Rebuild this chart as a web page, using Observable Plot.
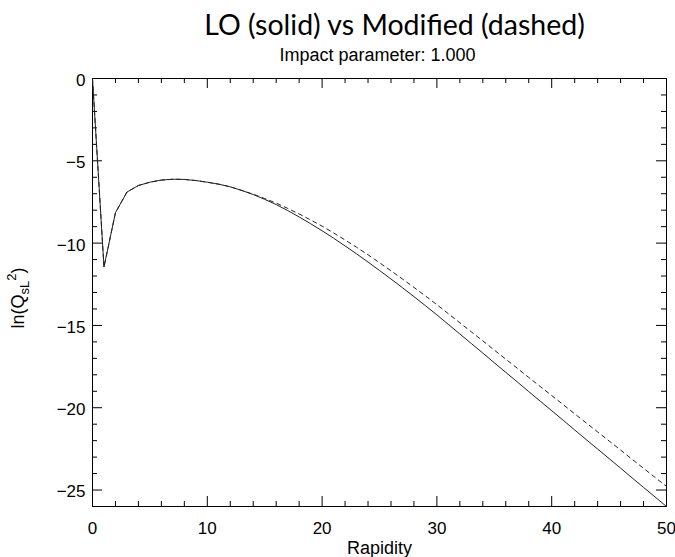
<!DOCTYPE html>
<html>
<head>
<meta charset="utf-8">
<script src="https://cdn.jsdelivr.net/npm/d3@7"></script>
<script src="https://cdn.jsdelivr.net/npm/@observablehq/plot@0.6"></script>
<style>
  html, body { margin: 0; padding: 0; background: #fff; }
  #chart { width: 675px; height: 557px; }
</style>
</head>
<body>
<div id="chart"></div>
<script>
// ---- Data ----
const rapidity = [0,1,2,3,4,5,6,7,8,9,10,11,12,13,14,15,16,17,18,19,20,21,22,23,24,25,26,27,28,29,30,31,32,33,34,35,36,37,38,39,40,41,42,43,44,45,46,47,48,49,50];
const lo = [0,-11.45,-8.15,-6.9,-6.5,-6.3,-6.17,-6.12,-6.13,-6.2,-6.3,-6.42,-6.58,-6.8,-7.05,-7.34,-7.66,-8.02,-8.41,-8.82,-9.25,-9.7,-10.17,-10.65,-11.15,-11.66,-12.18,-12.71,-13.25,-13.8,-14.36,-14.94,-15.52,-16.1,-16.68,-17.27,-17.85,-18.43,-19.02,-19.6,-20.18,-20.76,-21.35,-21.93,-22.51,-23.09,-23.67,-24.26,-24.84,-25.42,-26.0];
const modified = [0,-11.45,-8.15,-6.9,-6.5,-6.3,-6.17,-6.12,-6.13,-6.2,-6.3,-6.42,-6.58,-6.8,-7.03,-7.29,-7.57,-7.89,-8.23,-8.59,-8.97,-9.38,-9.81,-10.25,-10.71,-11.19,-11.68,-12.18,-12.69,-13.21,-13.74,-14.29,-14.84,-15.39,-15.94,-16.5,-17.05,-17.6,-18.16,-18.71,-19.26,-19.81,-20.37,-20.92,-21.47,-22.02,-22.57,-23.13,-23.68,-24.23,-24.78];
const xTicks = [0,10,20,30,40,50];
const yTicks = [0,-5,-10,-15,-20,-25];
const xMinorTicks = [2,4,6,8,12,14,16,18,22,24,26,28,32,34,36,38,42,44,46,48];
const yMinorTicks = [-1,-2,-3,-4,-6,-7,-8,-9,-11,-12,-13,-14,-16,-17,-18,-19,-21,-22,-23,-24,-26];
const titleText = "LO (solid) vs Modified (dashed)";
const subtitleText = "Impact parameter: 1.000";
const xLabel = "Rapidity";

const loData = rapidity.map((x, i) => ({x, y: lo[i]}));
const modData = rapidity.map((x, i) => ({x, y: modified[i]}));

const W = 675, H = 557, ML = 92, MR = 9, MT = 78, MB = 51;
const PW = W - ML - MR, PH = H - MT - MB;
const majorLen = 10, minorLen = 5;
const sans = "'Liberation Sans', Arial, Helvetica, sans-serif";

const plot = Plot.plot({
  width: W, height: H,
  marginLeft: ML, marginRight: MR, marginTop: MT, marginBottom: MB,
  style: {background: "#fff", color: "#000", fontFamily: sans},
  x: {domain: [0, 50]},
  y: {domain: [-26, 0]},
  marks: [
    Plot.frame({stroke: "#000", strokeWidth: 1}),
    // bottom & top ticks (inward)
    Plot.tickX(xTicks, {x: d => d, insetTop: PH - majorLen, stroke: "#000"}),
    Plot.tickX(xTicks, {x: d => d, insetBottom: PH - majorLen, stroke: "#000"}),
    Plot.tickX(xMinorTicks, {x: d => d, insetTop: PH - minorLen, stroke: "#000"}),
    Plot.tickX(xMinorTicks, {x: d => d, insetBottom: PH - minorLen, stroke: "#000"}),
    // left & right ticks (inward)
    Plot.tickY(yTicks, {y: d => d, insetRight: PW - majorLen, stroke: "#000"}),
    Plot.tickY(yTicks, {y: d => d, insetLeft: PW - majorLen, stroke: "#000"}),
    Plot.tickY(yMinorTicks, {y: d => d, insetRight: PW - minorLen, stroke: "#000"}),
    Plot.tickY(yMinorTicks, {y: d => d, insetLeft: PW - minorLen, stroke: "#000"}),
    Plot.axisX(xTicks, {tickSize: 0, tickPadding: 15, fontSize: 17, label: null}),
    Plot.axisY(yTicks, {tickSize: 0, tickPadding: 7, fontSize: 17, dy: 2, label: null}),
    Plot.line(modData, {x: "x", y: "y", stroke: "#222", strokeWidth: 1, strokeDasharray: "4,4"}),
    Plot.line(loData, {x: "x", y: "y", stroke: "#222", strokeWidth: 1}),
    Plot.text([xLabel], {frameAnchor: "bottom", lineAnchor: "middle", dy: 42, fontSize: 18, fill: "#000"}),
    Plot.text([subtitleText], {frameAnchor: "top", lineAnchor: "middle", dy: -23, dx: -2, fontSize: 18, fill: "#000"}),
    Plot.text([titleText], {frameAnchor: "top", lineAnchor: "middle", dy: -53, dx: 15, fontSize: 28.5, fontWeight: 400, fill: "#000", fontFamily: "Lato, 'Open Sans', sans-serif"})
  ]
});

// y-axis label with subscript and superscript
const svg = d3.select(plot);
const yl = svg.append("text")
  .attr("transform", `translate(24,${MT + PH / 2 + 6}) rotate(-90)`)
  .attr("text-anchor", "middle")
  .attr("font-family", sans)
  .attr("font-size", 18)
  .attr("fill", "#000");
yl.append("tspan").text("ln(Q");
yl.append("tspan").attr("font-size", 13).attr("dy", 5).text("sL");
yl.append("tspan").attr("font-size", 13).attr("dy", -13).text("2");
yl.append("tspan").attr("dy", 8).text(")");

document.getElementById("chart").appendChild(plot);
</script>
</body>
</html>
